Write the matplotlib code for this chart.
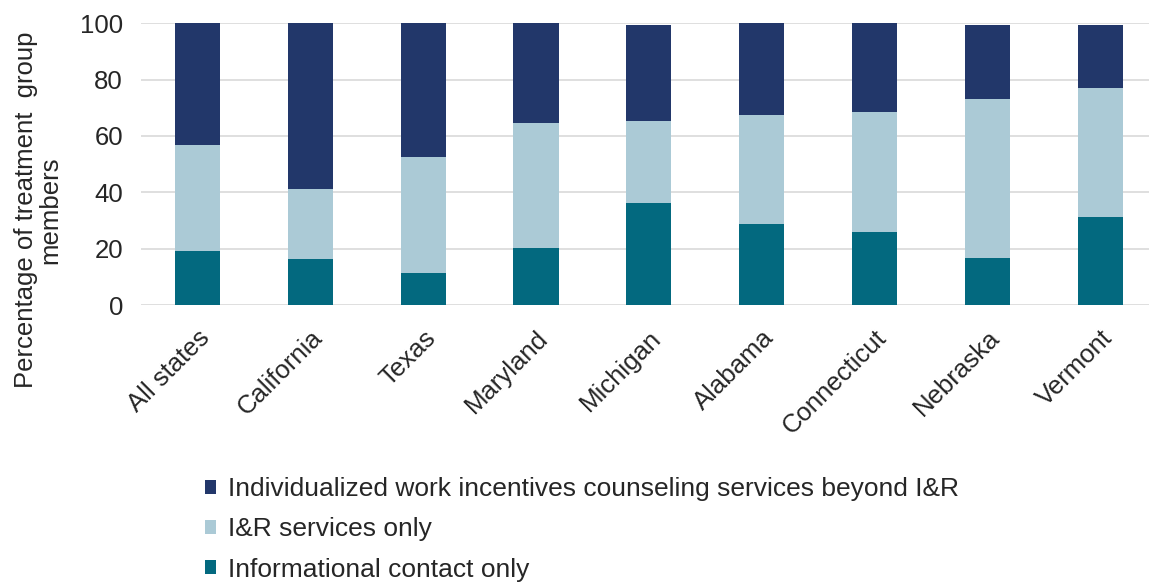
import matplotlib.pyplot as plt
import numpy as np

plt.rcParams['font.family'] = ['Liberation Sans', 'DejaVu Sans']

states = ['All states', 'California', 'Texas', 'Maryland', 'Michigan',
          'Alabama', 'Connecticut', 'Nebraska', 'Vermont']
informational = [19.2, 16.3, 11.2, 20.1, 36.2, 28.8, 25.9, 16.8, 31.1]
ir_only = [37.5, 24.9, 41.5, 44.4, 29.0, 38.5, 42.6, 56.3, 46.1]
individualized = [43.3, 58.8, 47.3, 35.5, 34.1, 32.7, 31.5, 26.2, 22.1]

c_dark = '#22376A'
c_light = '#ABCAD6'
c_teal = '#03697F'
txt = '#262626'

fig = plt.figure(figsize=(11.49, 5.86), dpi=100)
ax = fig.add_axes([0.1227, 0.4795, 0.884, 0.4807])

x = np.arange(len(states))
w = 0.4
b1 = ax.bar(x, informational, w, color=c_teal, zorder=3)
base = np.array(informational)
b2 = ax.bar(x, ir_only, w, bottom=base, color=c_light, zorder=3)
base = base + np.array(ir_only)
b3 = ax.bar(x, individualized, w, bottom=base, color=c_dark, zorder=3)

ax.set_xlim(-0.5, len(states) - 0.5)
ax.set_ylim(0, 100)
ax.set_yticks(range(0, 101, 20))
ax.grid(axis='y', color='#D9D9D9', linewidth=1.2, zorder=0)
for s in ax.spines.values():
    s.set_visible(False)
ax.tick_params(length=0, labelsize=18.5, colors=txt)
ax.tick_params(axis='y', pad=13)
ax.set_xticks(x)
ax.set_xticklabels(states, rotation=45, ha='right', rotation_mode='anchor')
ax.tick_params(axis='x', pad=15)

fig.text(38 / 1149, 1 - 210 / 586, 'Percentage of treatment  group\nmembers',
         rotation=90, ha='center', va='center', multialignment='center',
         fontsize=18.5, color=txt, linespacing=1.0)

fig.legend([b3, b2, b1],
           ['Individualized work incentives counseling services beyond I&R',
            'I&R services only', 'Informational contact only'],
           loc='upper left', bbox_to_anchor=(0.178, 0.186), frameon=False,
           fontsize=19, handlelength=0.45, handleheight=0.45,
           handletextpad=0.45, labelspacing=0.62, labelcolor=txt,
           borderaxespad=0, borderpad=0)

fig.savefig('out.png', dpi=100)
